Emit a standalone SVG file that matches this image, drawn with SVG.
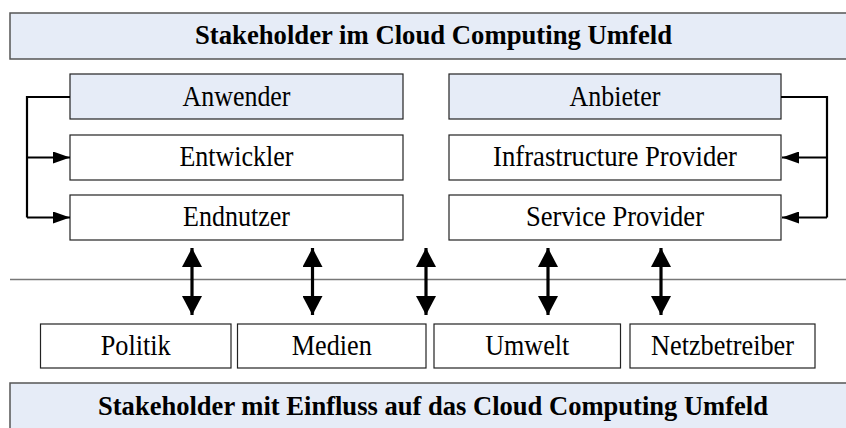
<svg xmlns="http://www.w3.org/2000/svg" width="846" height="428" viewBox="0 0 846 428">
<style>
.banner{fill:#E6ECF7;stroke:#555;stroke-width:1.5}
.head{fill:#E6ECF7;stroke:#222;stroke-width:1.2}
.box{fill:#fff;stroke:#222;stroke-width:1.2}
.bt{font-family:"Liberation Serif","Times New Roman",serif;font-weight:bold;font-size:26.5px;fill:#000;text-anchor:middle}
.t{font-family:"Liberation Serif","Times New Roman",serif;font-size:28.5px;fill:#000;text-anchor:middle}
.br{fill:none;stroke:#000;stroke-width:2.2}
.dbl{fill:none;stroke:#000;stroke-width:3.2}
</style>
<defs>
<marker id="ah" viewBox="0 0 17 12" refX="17" refY="6" markerWidth="17" markerHeight="12" markerUnits="userSpaceOnUse" orient="auto">
<path d="M0,0 L17,6 L0,12 Z" fill="#000"/>
</marker>
<marker id="big" viewBox="0 0 19 20" refX="19" refY="10" markerWidth="19" markerHeight="20" markerUnits="userSpaceOnUse" orient="auto-start-reverse">
<path d="M0,0 L19,10 L0,20 Z" fill="#000"/>
</marker>
</defs>

<g id="banner-top">
<rect class="banner" x="10" y="13" width="850" height="46"/>
<text class="bt" x="433.5" y="44" textLength="477" lengthAdjust="spacingAndGlyphs">Stakeholder im Cloud Computing Umfeld</text>
</g>

<g id="anwender"><rect class="head" x="70" y="74" width="333" height="45"/><text class="t" x="236.5" y="106" textLength="108" lengthAdjust="spacingAndGlyphs">Anwender</text></g>
<g id="entwickler"><rect class="box" x="70" y="135" width="333" height="45"/><text class="t" x="236.5" y="166" textLength="114" lengthAdjust="spacingAndGlyphs">Entwickler</text></g>
<g id="endnutzer"><rect class="box" x="70" y="195" width="333" height="45"/><text class="t" x="236.5" y="226" textLength="107" lengthAdjust="spacingAndGlyphs">Endnutzer</text></g>

<g id="anbieter"><rect class="head" x="449" y="74" width="332" height="45"/><text class="t" x="615" y="106" textLength="91" lengthAdjust="spacingAndGlyphs">Anbieter</text></g>
<g id="infrastructure"><rect class="box" x="449" y="135" width="332" height="45"/><text class="t" x="615" y="166" textLength="244" lengthAdjust="spacingAndGlyphs">Infrastructure Provider</text></g>
<g id="service"><rect class="box" x="449" y="195" width="332" height="45"/><text class="t" x="615" y="226" textLength="178" lengthAdjust="spacingAndGlyphs">Service Provider</text></g>

<g id="politik"><rect class="box" x="40.5" y="324" width="190.5" height="44"/><text class="t" x="135.75" y="355" textLength="70" lengthAdjust="spacingAndGlyphs">Politik</text></g>
<g id="medien"><rect class="box" x="237.5" y="324" width="188.5" height="44"/><text class="t" x="331.75" y="355" textLength="80" lengthAdjust="spacingAndGlyphs">Medien</text></g>
<g id="umwelt"><rect class="box" x="434" y="324" width="186.5" height="44"/><text class="t" x="527.25" y="355" textLength="84" lengthAdjust="spacingAndGlyphs">Umwelt</text></g>
<g id="netzbetreiber"><rect class="box" x="630" y="324" width="185" height="44"/><text class="t" x="722.5" y="355" textLength="143" lengthAdjust="spacingAndGlyphs">Netzbetreiber</text></g>

<g id="banner-bottom">
<rect class="banner" x="10" y="383" width="850" height="50"/>
<text class="bt" x="433" y="415" textLength="670" lengthAdjust="spacingAndGlyphs">Stakeholder mit Einfluss auf das Cloud Computing Umfeld</text>
</g>

<g id="connectors">
<line x1="10" y1="279.5" x2="846" y2="279.5" stroke="#777" stroke-width="1.5"/>
<path class="br" d="M70,97 H27 V217.5"/>
<line class="br" x1="27" y1="157.5" x2="70" y2="157.5" marker-end="url(#ah)"/>
<line class="br" x1="27" y1="217.5" x2="70" y2="217.5" marker-end="url(#ah)"/>
<path class="br" d="M781,97 H827 V217.5"/>
<line class="br" x1="827" y1="157.5" x2="782" y2="157.5" marker-end="url(#ah)"/>
<line class="br" x1="827" y1="217.5" x2="782" y2="217.5" marker-end="url(#ah)"/>
<line class="dbl" x1="192" y1="248" x2="192" y2="315" marker-start="url(#big)" marker-end="url(#big)"/>
<line class="dbl" x1="312.5" y1="248" x2="312.5" y2="315" marker-start="url(#big)" marker-end="url(#big)"/>
<line class="dbl" x1="426" y1="248" x2="426" y2="315" marker-start="url(#big)" marker-end="url(#big)"/>
<line class="dbl" x1="548" y1="248" x2="548" y2="315" marker-start="url(#big)" marker-end="url(#big)"/>
<line class="dbl" x1="661" y1="248" x2="661" y2="315" marker-start="url(#big)" marker-end="url(#big)"/>
</g>
</svg>
